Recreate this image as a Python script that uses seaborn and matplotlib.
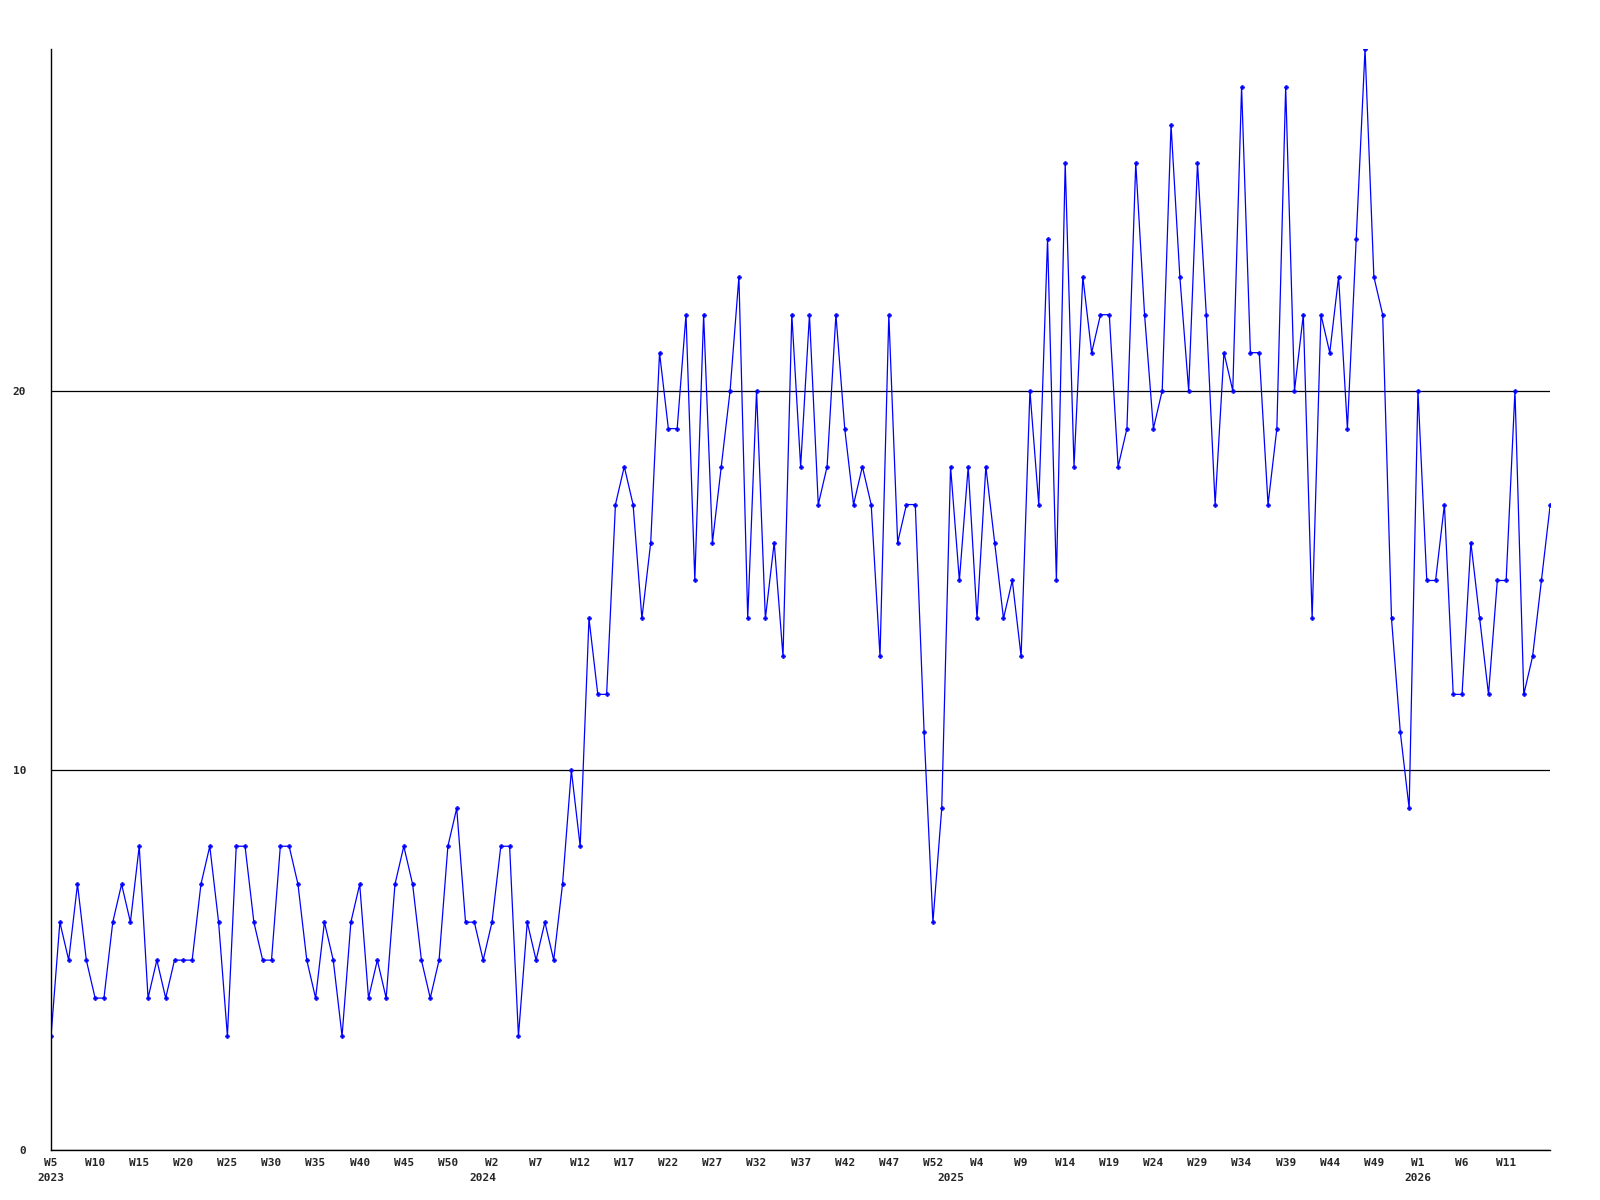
import numpy as np
import pandas as pd
import matplotlib
matplotlib.use("Agg")
import matplotlib.pyplot as plt
import matplotlib.transforms as mtransforms
import seaborn as sns

# weekly counts, first point is 2023 W5
start_year = 2023
start_week = 5
weeks_per_year = 53
counts = [
    3, 6, 5, 7, 5, 4, 4, 6, 7, 6, 8, 4, 5, 4, 5, 5, 5, 7, 8, 6,
    3, 8, 8, 6, 5, 5, 8, 8, 7, 5, 4, 6, 5, 3, 6, 7, 4, 5, 4, 7,
    8, 7, 5, 4, 5, 8, 9, 6, 6, 5, 6, 8, 8, 3, 6, 5, 6, 5, 7, 10,
    8, 14, 12, 12, 17, 18, 17, 14, 16, 21, 19, 19, 22, 15, 22, 16, 18, 20, 23, 14,
    20, 14, 16, 13, 22, 18, 22, 17, 18, 22, 19, 17, 18, 17, 13, 22, 16, 17, 17, 11,
    6, 9, 18, 15, 18, 14, 18, 16, 14, 15, 13, 20, 17, 24, 15, 26, 18, 23, 21, 22,
    22, 18, 19, 26, 22, 19, 20, 27, 23, 20, 26, 22, 17, 21, 20, 28, 21, 21, 17, 19,
    28, 20, 22, 14, 22, 21, 23, 19, 24, 29, 23, 22, 14, 11, 9, 20, 15, 15, 17, 12,
    12, 16, 14, 12, 15, 15, 20, 12, 13, 15, 17,
]
y_ticks = [0, 10, 20]
y_max = 29

# build year / week labels for each point
years, weeks = [], []
y, w = start_year, start_week
for _ in counts:
    years.append(y)
    weeks.append(w)
    w += 1
    if w > weeks_per_year:
        w = 1
        y += 1

df = pd.DataFrame({"idx": np.arange(len(counts)), "year": years,
                   "week": weeks, "count": counts})

sns.set_style("white")
plt.rcParams["font.family"] = ["DejaVu Sans Mono"]

fig = plt.figure(figsize=(16, 12), dpi=100)
ax = fig.add_axes([0.0319, 0.0417, 0.937, 0.9175])

ax.yaxis.grid(True, color="black", lw=0.9)
ax.set_axisbelow(True)
sns.lineplot(data=df, x="idx", y="count", ax=ax, color="#0000ff", lw=0.9,
             marker="P", markersize=3, markeredgecolor="#0000ff",
             markeredgewidth=0.4)

ax.set_xlim(0, len(counts) - 1)
ax.set_ylim(0, y_max)
ax.set_yticks(y_ticks)
ax.set_yticklabels([str(t) for t in y_ticks], fontsize=8, fontweight="bold")

# week ticks every 5 points, the last point gets none
tick_rows = df[(df["idx"] % 5 == 0) & (df["idx"] < len(counts) - 1)]
ax.set_xticks(tick_rows["idx"])
ax.set_xticklabels([f"W{w}" for w in tick_rows["week"]], fontsize=8,
                   fontweight="bold")
ax.tick_params(axis="both", length=0)
ax.tick_params(axis="x", pad=6)
ax.tick_params(axis="y", pad=18)

# year labels at the first point of each year
trans = mtransforms.blended_transform_factory(ax.transData, ax.transAxes)
first_rows = df.groupby("year").first()
for yr, row in first_rows.iterrows():
    ax.text(row["idx"], -0.021, str(yr), transform=trans, ha="center",
            va="top", fontsize=8, fontweight="bold")

ax.set_xlabel("")
ax.set_ylabel("")
for side in ["top", "right"]:
    ax.spines[side].set_visible(False)
for side in ["left", "bottom"]:
    ax.spines[side].set_color("black")
    ax.spines[side].set_linewidth(1)

fig.savefig("out.png", dpi=100, facecolor="white")
